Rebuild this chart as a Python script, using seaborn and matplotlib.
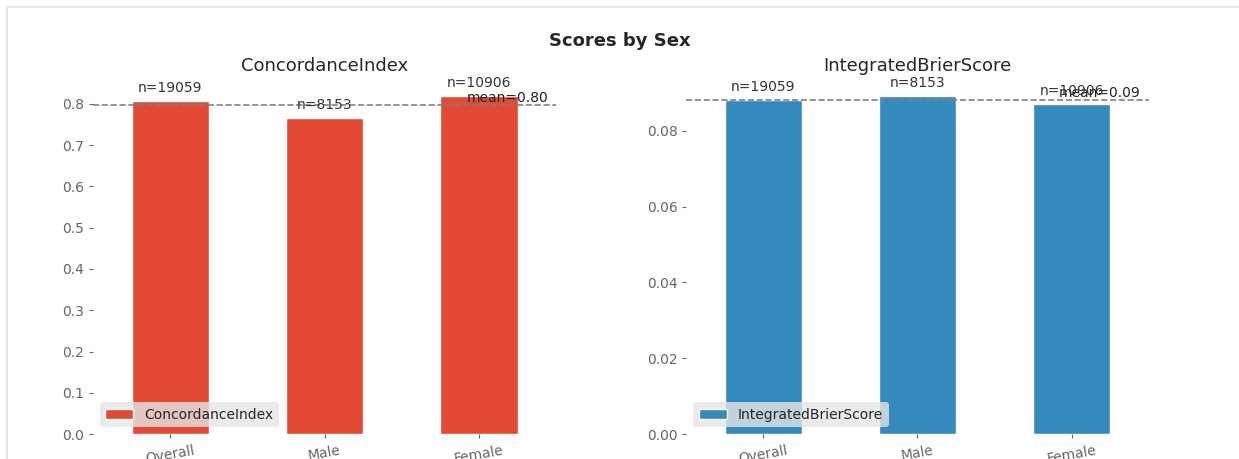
import matplotlib
matplotlib.use('Agg')
import matplotlib.pyplot as plt
import seaborn as sns
import numpy as np
from matplotlib.lines import Line2D

# data
groups = ['Overall', 'Male', 'Female']
n_counts = [19059, 8153, 10906]
concordance = [0.807, 0.766, 0.819]
brier = [0.0882, 0.0892, 0.0871]

sns.set_style('white', {'xtick.bottom': True, 'ytick.left': True,
                        'axes.spines.left': False, 'axes.spines.bottom': False,
                        'axes.spines.right': False, 'axes.spines.top': False})
plt.rcParams['font.family'] = ['DejaVu Sans']
plt.rcParams['xtick.color'] = '#666666'
plt.rcParams['ytick.color'] = '#666666'

fig = plt.figure(figsize=(12.39, 4.59), dpi=100)
ax1 = fig.add_axes([0.075, 0.054, 0.374, 0.774])
ax2 = fig.add_axes([0.554, 0.054, 0.373, 0.774])

panels = [(ax1, concordance, 'ConcordanceIndex', '#E24A33'),
          (ax2, brier, 'IntegratedBrierScore', '#348ABD')]

for ax, vals, name, col in panels:
    sns.barplot(x=groups, y=vals, color=col, width=0.5, saturation=1,
                label=name, ax=ax)
    ax.set_xlim(-0.5, 2.5)
    ax.set_ylim(0, max(vals) * 1.05)
    m = np.mean(vals)
    ax.axhline(m, color='gray', ls='--', lw=1.2)
    ax.text(2.45, m, f'mean={m:.2f}', ha='right', va='bottom', fontsize=10,
            color='#222222')
    for i, (v, n) in enumerate(zip(vals, n_counts)):
        ax.annotate(f'n={n}', (i, v), xytext=(0, 4), textcoords='offset points',
                    ha='center', va='bottom', fontsize=10, color='#333333')
    ax.set_title(name, fontsize=13)
    ax.tick_params(axis='x', rotation=10, labelsize=10, length=3)
    ax.tick_params(axis='y', labelsize=10, length=3)
    leg = ax.legend(loc='lower left', frameon=True, fontsize=10)
    leg.get_frame().set_facecolor('#E5E5E5')
    leg.get_frame().set_edgecolor('none')

fig.suptitle('Scores by Sex', fontsize=13, fontweight='bold', y=0.93)

# faint screenshot frame
fig.add_artist(Line2D([0.006, 1.0], [0.985, 0.985], color='#e6e6e6', lw=1.5,
                      transform=fig.transFigure))
fig.add_artist(Line2D([0.006, 0.006], [0.0, 0.985], color='#e6e6e6', lw=1.5,
                      transform=fig.transFigure))

fig.savefig('out.png', dpi=100)
